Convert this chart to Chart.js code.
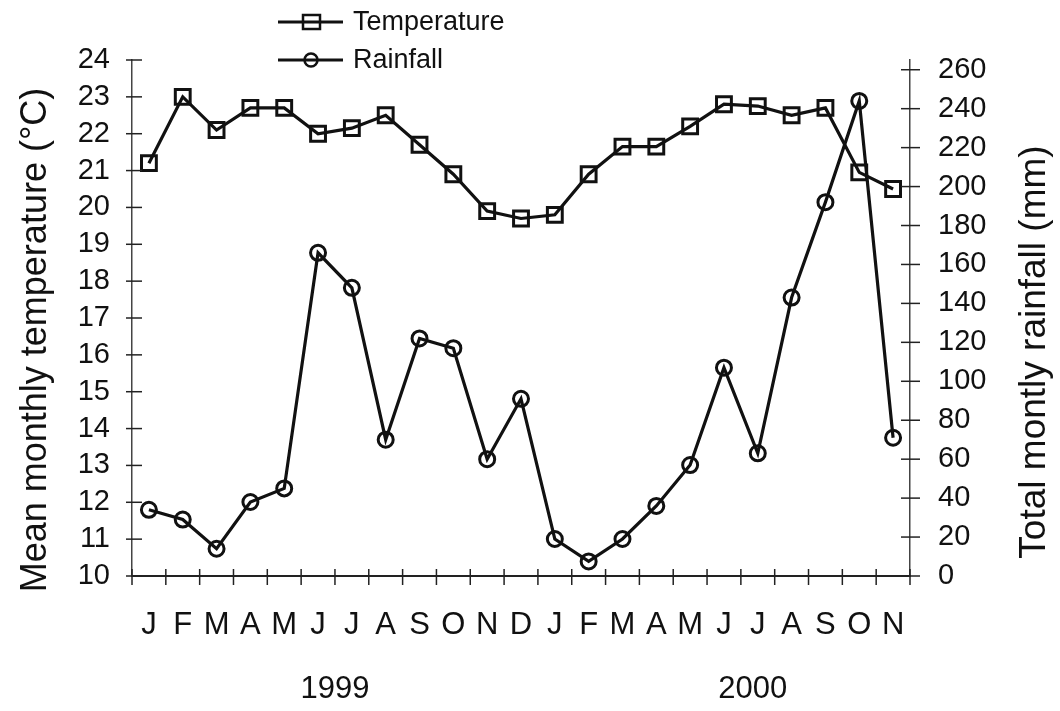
<!DOCTYPE html>
<html>
<head>
<meta charset="utf-8">
<script src="https://cdn.jsdelivr.net/npm/chart.js@4.4.1/dist/chart.umd.min.js"></script>
<style>
    html, body { margin: 0; padding: 0; background: #fff; }
    #wrap { width: 1060px; height: 711px; }
</style>
</head>
<body>
<div id="wrap"><canvas id="climateChart" width="1060" height="711"></canvas></div>
<script>
// 月份與兩個序列（1999 年 1 月 – 2000 年 11 月）
const months = ['J', 'F', 'M', 'A', 'M', 'J', 'J', 'A', 'S', 'O', 'N', 'D',
                'J', 'F', 'M', 'A', 'M', 'J', 'J', 'A', 'S', 'O', 'N'];
const years = ['1999', '2000'];
const yearCentres = [5.5, 17.85];
const temperature = [21.2, 23.0, 22.1, 22.7, 22.7, 22.0, 22.15, 22.5, 21.7, 20.9, 19.9, 19.7,
                     19.8, 20.9, 21.65, 21.65, 22.2, 22.8, 22.75, 22.5, 22.7, 20.95, 20.5];
const rainfall = [34, 29, 14, 38, 45, 166, 148, 70, 122, 117, 60, 91,
                  19, 7.5, 19, 36, 57, 107, 63, 143, 192, 244, 71];
const rainTicks = [0, 20, 40, 60, 80, 100, 120, 140, 160, 180, 200, 220, 240, 260];

const FONT = '"Liberation Sans", Arial, Helvetica, sans-serif';
const INK = '#111';

// 軸上穿過軸線的刻度
const crossTicks = {
    id: 'crossTicks',
    afterDraw(chart) {
        const { ctx, chartArea, scales } = chart;
        const seg = (x1, y1, x2, y2) => {
            ctx.beginPath();
            ctx.moveTo(x1, y1);
            ctx.lineTo(x2, y2);
            ctx.stroke();
        };
        ctx.save();
        ctx.strokeStyle = '#222';
        ctx.lineWidth = 1.5;
        for (let i = 0; i <= months.length; i++) {
            const px = scales.x.getPixelForValue(i - 0.5);
            seg(px, chartArea.bottom - 7, px, chartArea.bottom + 9);
        }
        scales.y.ticks.forEach((t, i) => {
            const py = scales.y.getPixelForTick(i);
            seg(chartArea.left - 6, py, chartArea.left + 10, py);
        });
        scales.y1.ticks.forEach((t, i) => {
            const py = scales.y1.getPixelForTick(i);
            seg(chartArea.right - 9, py, chartArea.right + 10, py);
        });
        ctx.restore();
    }
};

// 圖例、年份與兩個軸標題
const extras = {
    id: 'extras',
    afterDraw(chart) {
        const { ctx, scales } = chart;
        ctx.save();
        chart.data.datasets.forEach((ds, i) => {
            const y = 22 + i * 38;
            ctx.strokeStyle = INK;
            ctx.lineWidth = 3;
            ctx.beginPath();
            ctx.moveTo(278, y);
            ctx.lineTo(343, y);
            ctx.stroke();
            ctx.lineWidth = 2.5;
            if (ds.pointStyle === 'rect') {
                ctx.strokeRect(303, y - 7, 17, 14);
            } else {
                ctx.beginPath();
                ctx.arc(311, y, 6.5, 0, Math.PI * 2);
                ctx.stroke();
            }
            ctx.fillStyle = INK;
            ctx.font = '27px ' + FONT;
            ctx.textBaseline = 'middle';
            ctx.textAlign = 'left';
            ctx.fillText(ds.label, 353, y + 1);
        });

        ctx.font = '31px ' + FONT;
        ctx.textAlign = 'center';
        years.forEach((yr, i) => {
            ctx.fillText(yr, scales.x.getPixelForValue(yearCentres[i]), 689);
        });

        ctx.font = '36px ' + FONT;
        ctx.save();
        ctx.translate(36, 340);
        ctx.rotate(-Math.PI / 2);
        ctx.fillText('Mean monthly temperature (°C)', 0, 0);
        ctx.restore();

        ctx.font = '37px ' + FONT;
        ctx.translate(1035, 352);
        ctx.rotate(-Math.PI / 2);
        ctx.fillText('Total montly rainfall (mm)', 0, 0);
        ctx.restore();
    }
};

new Chart(document.getElementById('climateChart').getContext('2d'), {
    type: 'line',
    data: {
        labels: months,
        datasets: [{
            label: 'Temperature',
            data: temperature,
            yAxisID: 'y',
            borderColor: INK,
            borderWidth: 3.2,
            pointStyle: 'rect',
            pointRadius: 10.5,
            pointBorderWidth: 3,
            pointBorderColor: INK,
            pointBackgroundColor: 'rgba(0,0,0,0)',
            tension: 0
        }, {
            label: 'Rainfall',
            data: rainfall,
            yAxisID: 'y1',
            borderColor: INK,
            borderWidth: 3.2,
            pointStyle: 'circle',
            pointRadius: 7.5,
            pointBorderWidth: 3,
            pointBorderColor: INK,
            pointBackgroundColor: 'rgba(0,0,0,0)',
            tension: 0
        }]
    },
    options: {
        responsive: false,
        animation: false,
        layout: { padding: { top: 60, left: 0, right: 0, bottom: 0 } },
        plugins: {
            legend: { display: false },
            tooltip: { enabled: false }
        },
        scales: {
            x: {
                type: 'category',
                offset: true,
                grid: { display: false, drawTicks: false, offset: true },
                border: { display: true, color: '#222', width: 2 },
                ticks: {
                    color: INK,
                    font: { family: FONT, size: 31 },
                    padding: 31,
                    autoSkip: false,
                    maxRotation: 0
                },
                afterFit(scale) { scale.height = 135; }
            },
            y: {
                position: 'left',
                min: 10,
                max: 24,
                grid: { display: false, drawTicks: false },
                border: { display: true, color: '#444', width: 1.5 },
                ticks: {
                    stepSize: 1,
                    autoSkip: false,
                    color: INK,
                    font: { family: FONT, size: 29 },
                    padding: 22
                },
                afterFit(scale) { scale.width = 132; }
            },
            y1: {
                position: 'right',
                min: 0,
                max: 265,
                grid: { display: false, drawTicks: false },
                border: { display: true, color: '#444', width: 1.5 },
                ticks: {
                    autoSkip: false,
                    color: INK,
                    font: { family: FONT, size: 29 },
                    padding: 28
                },
                afterBuildTicks(scale) {
                    scale.ticks = rainTicks.map(v => ({ value: v }));
                },
                afterFit(scale) { scale.width = 150; }
            }
        }
    },
    plugins: [crossTicks, extras]
});
</script>
</body>
</html>
